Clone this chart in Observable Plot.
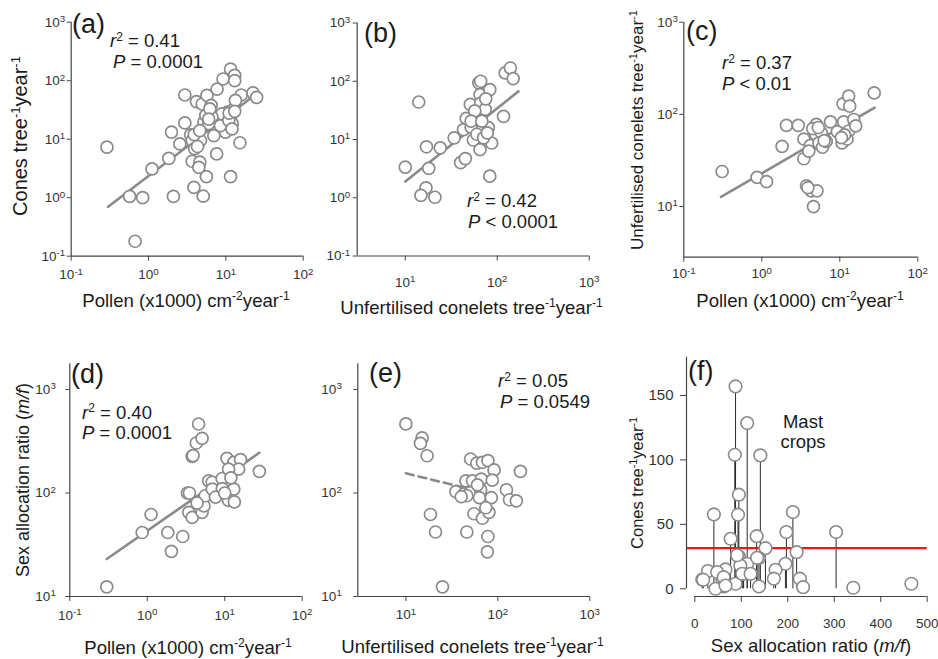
<!DOCTYPE html>
<html>
<head>
<meta charset="utf-8">
<script src="https://cdn.jsdelivr.net/npm/d3@7"></script>
<script src="https://cdn.jsdelivr.net/npm/@observablehq/plot@0.6"></script>
<style>
  html, body { margin: 0; padding: 0; background: #fff; }
  #fig { position: relative; width: 938px; height: 659px; overflow: hidden; background: #fff;
         font-family: "Liberation Sans", Arial, Helvetica, sans-serif; color: #1a1a1a; }
  #fig svg { position: absolute; }
  .lab { position: absolute; white-space: nowrap; line-height: 1; }
  .lab sup { font-size: 0.65em; position: relative; top: -0.55em; vertical-align: baseline; line-height: 0; }
</style>
</head>
<body>
<div id="fig"></div>
<script>
// ---------------- data ----------------
// (a) pollen (x1000 cm-2 yr-1) vs cones tree-1 yr-1
const aPollen = [0.29,0.57,0.84,0.67,1.11,1.83,2.1,1.98,2.54,2.95,2.95,3.5,3.67,3.94,3.67,4.17,4.6,4.47,3.86,5.1,5.6,4.7,4.94,5.7,5.2,6.0,6.46,7.0,7.7,9.2,7.6,11.5,13,13,11.5,15.2,9.9,10.5,11.5,12.1,12.7,15.8,13.3,22.4,25,8.5,8.9,6.6,5.5,10.9,3.9,4.3,6.2,12,11,4.6,6,13];
const aCones  = [7.3,1.05,1.0,0.18,3.1,4.7,1.05,13.2,8.3,57,19,11.9,9.5,6.9,4.2,44,4.05,3.3,1.5,1.06,2.3,9.5,40,56,19.6,18.4,38,11.5,72,107,5.6,158,123,100,2.3,8.7,13.2,29,24,18.4,33,57,46,62,52,17,27,24,25.6,21,12,7.5,33,15,28,14,22,30];
const aFitPollen = [0.3, 25];
const aFitCones  = [0.7, 60];

// (b) unfertilised conelets vs cones
const bConelets = [14,10,18,17,24,16.8,14.8,21,34,40,45,83,43,46,51,52,55,63,65,66,69,65,83,87,117,122,139,149,74,80,57,52,68,60,71,66,75,78];
const bCones    = [44,3.35,3.2,7.5,7.2,1.48,1.1,1.02,10.7,4.0,4.7,2.35,14.8,23,40,16.3,9.8,94,59,42,14.8,6.7,72,8.7,25,139,169,111,33,16,31,20.6,20.6,12.3,10.7,100,50,13];
const bFitConelets = [10, 170];
const bFitCones    = [1.9, 67];

// (c) pollen vs unfertilised conelets
const cPollen   = [0.31,0.87,1.15,1.82,2.07,2.93,3.46,3.46,3.74,4.3,5.1,4.6,3.9,4.2,5.0,4.9,5.8,5.4,6.0,6.7,7.6,9.3,10.7,11.2,11,13,13.4,13,15.1,16,27.6,12.4,4.5,5.3,11.5,10.5,6.3,4.0];
const cConelets = [24,20.7,18.6,45,76,76,33,54,16.8,14.8,14.8,10,16,46,78,61,63,49,44,51,83,65,49,83,130,158,123,66,88,75,171,54,70,72,60,56,52,40];
const cFitPollen   = [0.3, 28];
const cFitConelets = [12.7, 118];

// (d) pollen vs sex allocation ratio
const dPollen = [0.30,0.86,1.12,1.84,2.05,2.87,3.3,3.43,3.8,3.8,4.3,4.6,5.1,3.9,5.1,5.4,5.6,6.2,6.9,7.6,9.25,10.7,13.1,16,15.1,11.2,13.1,11.2,13.3,28,6.9,4.4,9.3,3.5,7.6,12,10];
const dRatio  = [12.4,41.5,62,41.5,27.3,38,100,65,58,226,304,464,337,230,65,75,94,131,127,93,138,216,198,210,170,170,109,85,82,162,109,80,110,100,91,140,100];
const dFitPollen = [0.3, 28];
const dFitRatio  = [23, 245];

// (e) unfertilised conelets vs sex allocation ratio
const eConelets = [10,15,14.4,17,18.5,21,25,35,46,50.5,45,53,43,50,59,68,78,91,66,87,65,63,85,55,68,80,78,77,124,134,159,176,46,74,40,60];
const eRatio    = [465,340,302,229,62,42,12.4,103,42,213,131,131,98,101,194,198,205,167,136,133,107,90,90,63,57,65,38,27,107,86,84,162,94,72,92,120];
const eFitConelets = [10, 48];
const eFitRatio    = [155, 110];

// (f) sex allocation ratio vs cones (linear)
const fRatio = [87.6,112.7,86,141,94.7,93,41,211,197,304,77,133,152,219,94.7,138,105,112.7,195,173.7,28,66,104,170,226,16,59,62,44.5,138,233,341,466,87.6,48,62,66,18,98,102,134,91,120];
const fCones = [157,128.6,104,103.5,73,57.5,57.7,59.5,44,44,38.8,40.8,31.5,28.4,25,23.8,18,19.4,19.4,14.7,13.7,15,11.6,7.8,7.8,7.2,7.8,1.8,0,1.8,1.2,0.8,3.9,3.9,13,9,2.5,7,18,11.6,24,26,11.6];
const mastThreshold = 31.5;

const logTicksA = [0.1, 1, 10, 100];
const logTicksY = [0.1, 1, 10, 100, 1000];
const logTicksB = [10, 100, 1000];
const logTicksC = [10, 100, 1000];
const fXTicks = [0, 100, 200, 300, 400, 500];
const fYTicks = [0, 50, 100, 150];

// ---------------- helpers ----------------
const FONT = '"Liberation Sans", Arial, Helvetica, sans-serif';
const fig = document.getElementById("fig");
const zip = (xs, ys) => xs.map((x, i) => ({x, y: ys[i]}));
const TICK_FS = 13.5;

function supify(svg) {
  for (const t of svg.querySelectorAll("text")) {
    const s = t.textContent;
    const i = s.indexOf("^");
    if (i < 0) continue;
    t.textContent = s.slice(0, i);
    const ts = document.createElementNS("http://www.w3.org/2000/svg", "tspan");
    ts.setAttribute("dy", "-0.45em");
    ts.setAttribute("font-size", "0.72em");
    ts.textContent = s.slice(i + 1);
    t.appendChild(ts);
  }
}

function place(svg, left, top) {
  svg.style.left = left + "px";
  svg.style.top = top + "px";
  fig.appendChild(svg);
}

const logFmt = d => "10^" + Math.round(Math.log10(d));

function logPanel(o) {
  const [x0, x1, y0, y1] = o.frame;
  const svg = Plot.plot({
    width: o.w, height: o.h,
    marginLeft: x0 - o.left, marginRight: o.left + o.w - x1,
    marginTop: y0 - o.top, marginBottom: o.top + o.h - y1,
    x: {type: "log", domain: o.xDomain},
    y: {type: "log", domain: o.yDomain},
    style: {background: "transparent", fontFamily: FONT, fontSize: TICK_FS + "px", color: "#333", overflow: "visible"},
    marks: [
      Plot.line(zip(o.fitX, o.fitY), {x: "x", y: "y", stroke: "#8a8a8a", strokeWidth: 2.6,
        strokeDasharray: o.dashed ? "8,5" : null}),
      Plot.dot(zip(o.xs, o.ys), {x: "x", y: "y", r: 6, stroke: "#8a8a8a", strokeWidth: 1.7, fill: "white"}),
      Plot.ruleX([o.xDomain[0]], {stroke: "#444", strokeWidth: 1.2}),
      Plot.ruleY([o.yDomain[0]], {stroke: "#444", strokeWidth: 1.2}),
      Plot.axisX({ticks: o.xTicks, tickFormat: logFmt, tickSize: 5, tickPadding: o.xPad, label: null, stroke: "#444", fill: "#333", fontSize: TICK_FS}),
      Plot.axisY({ticks: o.yTicks, tickFormat: logFmt, tickSize: 4, tickPadding: o.yPad, label: null, stroke: "#444", fill: "#333", fontSize: TICK_FS})
    ]
  });
  supify(svg);
  place(svg, o.left, o.top);
}

function label(html, o) {
  const d = document.createElement("div");
  d.className = "lab";
  d.innerHTML = html;
  d.style.fontSize = o.fs + "px";
  if (o.rotate) {
    d.style.left = o.cx + "px";
    d.style.top = o.cy + "px";
    d.style.transform = "translate(-50%,-50%) rotate(-90deg)";
  } else if (o.cx !== undefined) {
    d.style.left = o.cx + "px";
    d.style.top = (o.cy) + "px";
    d.style.transform = "translate(-50%,-50%)";
  } else {
    d.style.left = o.left + "px";
    d.style.top = (o.baseline - 0.85 * o.fs) + "px";
  }
  fig.appendChild(d);
}

// ---------------- panels ----------------
logPanel({left: 20, top: 0, w: 300, h: 300, frame: [70.7, 302.7, 21.7, 255.7],
  xDomain: [0.1, 100], yDomain: [0.1, 1000], xTicks: logTicksA, yTicks: logTicksY,
  xs: aPollen, ys: aCones, fitX: aFitPollen, fitY: aFitCones, xPad: 8.5, yPad: 2});

logPanel({left: 320, top: 0, w: 290, h: 310, frame: [356.7, 588.7, 22.5, 255.5],
  xDomain: [3, 1000], yDomain: [0.1, 1000], xTicks: logTicksB, yTicks: logTicksY,
  xs: bConelets, ys: bCones, fitX: bFitConelets, fitY: bFitCones, xPad: 16, yPad: 3});

logPanel({left: 625, top: 0, w: 313, h: 300, frame: [683.3, 917.3, 21.7, 256.7],
  xDomain: [0.1, 100], yDomain: [2.82, 1000], xTicks: logTicksA, yTicks: logTicksC,
  xs: cPollen, ys: cConelets, fitX: cFitPollen, fitY: cFitConelets, xPad: 6.5, yPad: 2});

logPanel({left: 20, top: 330, w: 300, h: 300, frame: [69.3, 301.7, 363.3, 596],
  xDomain: [0.1, 100], yDomain: [10, 1770], xTicks: logTicksA, yTicks: logTicksC,
  xs: dPollen, ys: dRatio, fitX: dFitPollen, fitY: dFitRatio, xPad: 8.5, yPad: 10});

logPanel({left: 320, top: 330, w: 290, h: 300, frame: [357.3, 589.3, 363.3, 596],
  xDomain: [3, 1000], yDomain: [10, 1770], xTicks: logTicksB, yTicks: logTicksC,
  xs: eConelets, ys: eRatio, fitX: eFitConelets, fitY: eFitRatio, dashed: true, xPad: 8, yPad: 12});

// (f) linear panel
{
  const fXDomain = [-17.9, 500], fYDomain = [-6, 179.7];
  const left = 640, top = 330, w = 298, h = 300;
  const [x0, x1, y0, y1] = [686, 926.7, 356.7, 596];
  const data = zip(fRatio, fCones);
  const svg = Plot.plot({
    width: w, height: h,
    marginLeft: x0 - left, marginRight: left + w - x1, marginTop: y0 - top, marginBottom: top + h - y1,
    x: {domain: fXDomain}, y: {domain: fYDomain},
    style: {background: "transparent", fontFamily: FONT, fontSize: "15px", color: "#333", overflow: "visible"},
    marks: [
      Plot.ruleX(data, {x: "x", y1: 0, y2: "y", stroke: "#2a2a2a", strokeWidth: 1}),
      Plot.ruleY([mastThreshold], {stroke: "#e31a1c", strokeWidth: 2.3}),
      Plot.dot(data, {x: "x", y: "y", r: 6.3, stroke: "#8a8a8a", strokeWidth: 1.6, fill: "white"}),
      Plot.ruleX([fXDomain[0]], {y1: d3.min(fYTicks), y2: fYDomain[1], stroke: "#444", strokeWidth: 1.2}),
      Plot.ruleY([fYDomain[0]], {x1: d3.min(fXTicks), x2: d3.max(fXTicks), stroke: "#444", strokeWidth: 1.2}),
      Plot.axisX({ticks: fXTicks, tickFormat: d3.format("d"), tickSize: 6, tickPadding: 16, label: null, stroke: "#444", fill: "#333", fontSize: 13.5}),
      Plot.axisY({ticks: fYTicks, tickFormat: d3.format("d"), tickSize: 6, tickPadding: 7, label: null, stroke: "#444", fill: "#333", fontSize: 15})
    ]
  });
  place(svg, left, top);
}

// ---------------- axis titles ----------------
const pollenLab = "Pollen (x1000) cm<sup>-2</sup>year<sup>-1</sup>";
const coneletLab = "Unfertilised conelets tree<sup>-1</sup>year<sup>-1</sup>";
const conesLab = "Cones tree<sup>-1</sup>year<sup>-1</sup>";
const ratioLab = "Sex allocation ratio (<i>m/f</i>)";

label(pollenLab,  {cx: 186,   cy: 301,   fs: 18.6});
label(coneletLab, {cx: 471.5, cy: 308,   fs: 18.6});
label(pollenLab,  {cx: 800,   cy: 301,   fs: 18.6});
label(pollenLab,  {cx: 188,   cy: 648,   fs: 18.6});
label(coneletLab, {cx: 472.5, cy: 647,   fs: 18.6});
label(ratioLab,   {cx: 811,   cy: 646,   fs: 18.6});

label(conesLab,   {cx: 20,  cy: 136, fs: 20, rotate: true});
label(coneletLab, {cx: 637, cy: 130, fs: 17, rotate: true});
label(ratioLab,   {cx: 23,  cy: 480, fs: 18, rotate: true});
label(conesLab,   {cx: 637, cy: 483, fs: 16.5, rotate: true});

// ---------------- annotations ----------------
const A = 18.5, PL = 27;
label("(a)", {left: 72, baseline: 34, fs: PL});
label("<i>r</i><sup>2</sup> = 0.41", {left: 110, baseline: 48, fs: A});
label("<i>P</i> = 0.0001", {left: 113, baseline: 68.5, fs: A});

label("(b)", {left: 364, baseline: 43, fs: PL});
label("<i>r</i><sup>2</sup> = 0.42", {left: 467, baseline: 208, fs: A});
label("<i>P</i> &lt; 0.0001", {left: 468, baseline: 228.5, fs: A});

label("(c)", {left: 686, baseline: 41, fs: PL});
label("<i>r</i><sup>2</sup> = 0.37", {left: 722, baseline: 70, fs: A});
label("<i>P</i> &lt; 0.01", {left: 722, baseline: 90.5, fs: A});

label("(d)", {left: 71, baseline: 384, fs: PL});
label("<i>r</i><sup>2</sup> = 0.40", {left: 82, baseline: 419.5, fs: A});
label("<i>P</i> = 0.0001", {left: 82, baseline: 440, fs: A});

label("(e)", {left: 369, baseline: 382.5, fs: PL});
label("<i>r</i><sup>2</sup> = 0.05", {left: 498, baseline: 388, fs: A});
label("<i>P</i> = 0.0549", {left: 500, baseline: 408.5, fs: A});

label("(f)", {left: 688, baseline: 381, fs: PL});
label("Mast", {cx: 803, cy: 422, fs: A});
label("crops", {cx: 803, cy: 442, fs: A});
</script>
</body>
</html>
